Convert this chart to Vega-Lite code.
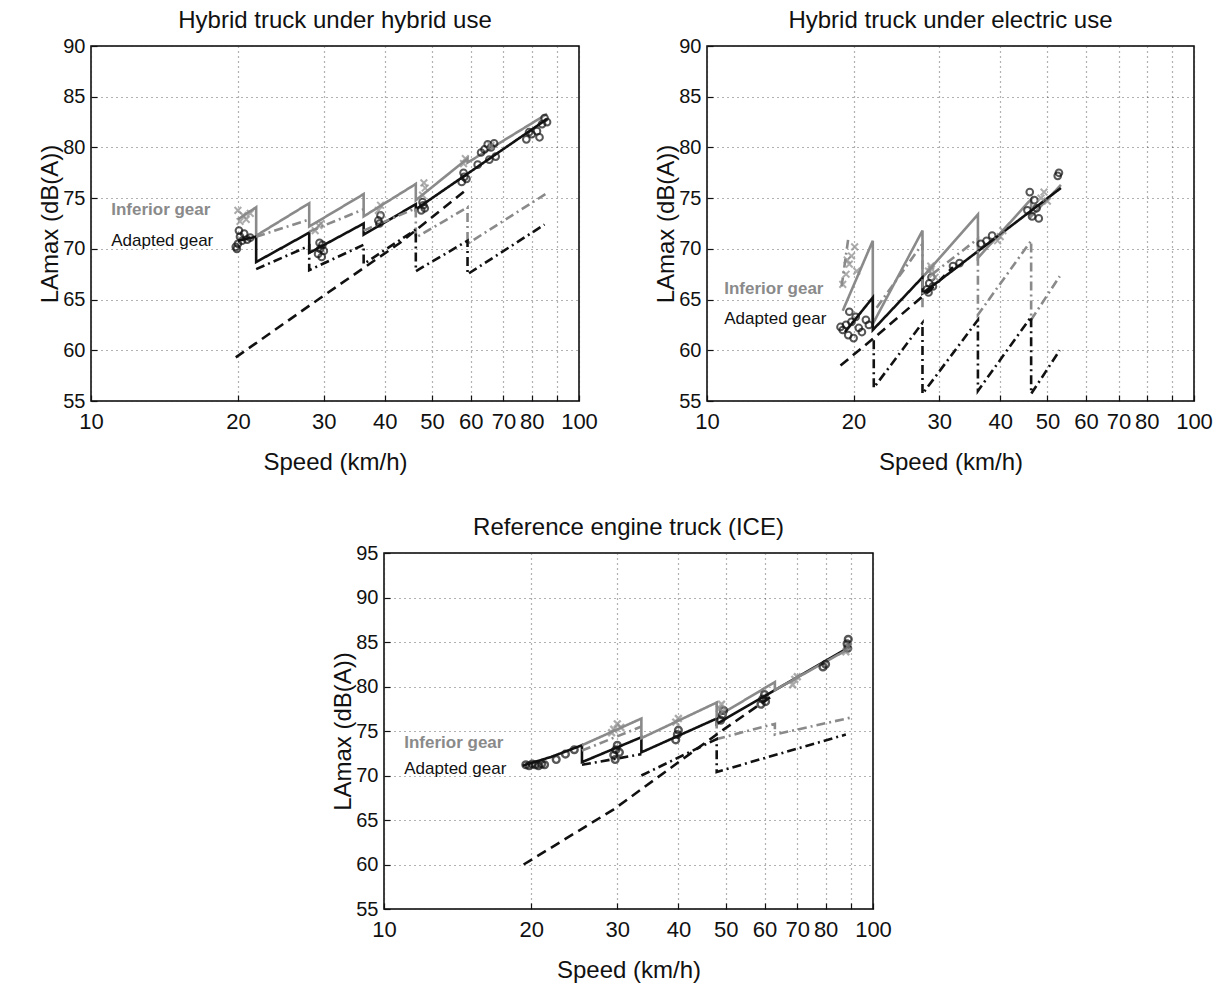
{
"$schema": "https://vega.github.io/schema/vega-lite/v6.json",
"background": "white",
"padding": {"left": 38, "top": 8, "right": 5, "bottom": 5},
"spacing": 40,
"config": {
 "font": "Liberation Sans",
 "view": {"stroke": "#000", "strokeWidth": 1.5},
 "axis": {"domain": false, "ticks": true, "tickSize": -6, "tickColor": "#111", "tickWidth": 1.2, "grid": true, "gridColor": "#333", "gridDash": [1, 4], "gridWidth": 1.2, "gridOpacity": 0.75, "labelFont": "Liberation Sans", "labelFontSize": 20, "labelColor": "#111", "labelOverlap": false, "labelFlush": false, "titleFont": "Liberation Sans", "titleFontSize": 24, "titleFontWeight": "normal", "titleColor": "#111"},
 "axisX": {"labelPadding": 16, "titlePadding": 18, "labelFontSize": 22},
 "axisY": {"labelPadding": 12, "titlePadding": 0},
 "title": {"fontSize": 24, "fontWeight": "normal", "font": "Liberation Sans", "color": "#111", "offset": 3}
},
"datasets": {
 "l1": [
  {"s":"gs","c":"Inferior","d":"solid","x":20,"y":72.9},{"s":"gs","c":"Inferior","d":"solid","x":21.8,"y":74.1},{"s":"gs","c":"Inferior","d":"solid","x":21.8,"y":71.3},{"s":"gs","c":"Inferior","d":"solid","x":28,"y":74.5},{"s":"gs","c":"Inferior","d":"solid","x":28,"y":72.2},{"s":"gs","c":"Inferior","d":"solid","x":36.2,"y":75.4},{"s":"gs","c":"Inferior","d":"solid","x":36.2,"y":73.2},{"s":"gs","c":"Inferior","d":"solid","x":46.3,"y":76.4},{"s":"gs","c":"Inferior","d":"solid","x":46.3,"y":74.8},{"s":"gs","c":"Inferior","d":"solid","x":59.1,"y":78.9},{"s":"gs","c":"Inferior","d":"solid","x":59.1,"y":78.5},{"s":"gs","c":"Inferior","d":"solid","x":86,"y":83.3},
  {"s":"bs","c":"Adapted","d":"solid","x":20,"y":70.8},{"s":"bs","c":"Adapted","d":"solid","x":21.8,"y":71.2},{"s":"bs","c":"Adapted","d":"solid","x":21.8,"y":68.7},{"s":"bs","c":"Adapted","d":"solid","x":28,"y":71.6},{"s":"bs","c":"Adapted","d":"solid","x":28,"y":69.6},{"s":"bs","c":"Adapted","d":"solid","x":36.2,"y":72.5},{"s":"bs","c":"Adapted","d":"solid","x":36.2,"y":71.4},{"s":"bs","c":"Adapted","d":"solid","x":46.3,"y":74.4},{"s":"bs","c":"Adapted","d":"solid","x":46.3,"y":73.9},{"s":"bs","c":"Adapted","d":"solid","x":86,"y":82.8},
  {"s":"gd1","c":"Inferior","d":"dashdot","x":21.8,"y":71.2},{"s":"gd1","c":"Inferior","d":"dashdot","x":28,"y":72.9},
  {"s":"gd2","c":"Inferior","d":"dashdot","x":28,"y":71.7},{"s":"gd2","c":"Inferior","d":"dashdot","x":36.2,"y":73.9},
  {"s":"gd3","c":"Inferior","d":"dashdot","x":36.2,"y":71.8},{"s":"gd3","c":"Inferior","d":"dashdot","x":46.3,"y":74.0},{"s":"gd3","c":"Inferior","d":"dashdot","x":46.3,"y":71.1},{"s":"gd3","c":"Inferior","d":"dashdot","x":59.1,"y":74.1},{"s":"gd3","c":"Inferior","d":"dashdot","x":59.1,"y":70.5},{"s":"gd3","c":"Inferior","d":"dashdot","x":86,"y":75.5},
  {"s":"bd","c":"Adapted","d":"dashdot","x":21.8,"y":68.0},{"s":"bd","c":"Adapted","d":"dashdot","x":28,"y":70.3},{"s":"bd","c":"Adapted","d":"dashdot","x":28,"y":67.9},{"s":"bd","c":"Adapted","d":"dashdot","x":36.2,"y":70.4},{"s":"bd","c":"Adapted","d":"dashdot","x":36.2,"y":68.5},{"s":"bd","c":"Adapted","d":"dashdot","x":46.3,"y":71.9},{"s":"bd","c":"Adapted","d":"dashdot","x":46.3,"y":67.8},{"s":"bd","c":"Adapted","d":"dashdot","x":59.1,"y":70.8},{"s":"bd","c":"Adapted","d":"dashdot","x":59.1,"y":67.5},{"s":"bd","c":"Adapted","d":"dashdot","x":85,"y":72.4},
  {"s":"bl","c":"Adapted","d":"dash","x":19.8,"y":59.3},{"s":"bl","c":"Adapted","d":"dash","x":30,"y":65.4},{"s":"bl","c":"Adapted","d":"dash","x":43,"y":70.6},{"s":"bl","c":"Adapted","d":"dash","x":59,"y":75.9}
 ],
 "l2": [
  {"s":"gs","c":"Inferior","d":"solid","x":19,"y":63.9},{"s":"gs","c":"Inferior","d":"solid","x":21.9,"y":70.8},{"s":"gs","c":"Inferior","d":"solid","x":21.9,"y":62.6},{"s":"gs","c":"Inferior","d":"solid","x":27.7,"y":71.8},{"s":"gs","c":"Inferior","d":"solid","x":27.7,"y":67.2},{"s":"gs","c":"Inferior","d":"solid","x":36,"y":73.4},{"s":"gs","c":"Inferior","d":"solid","x":36,"y":69.1},{"s":"gs","c":"Inferior","d":"solid","x":46.3,"y":74.9},{"s":"gs","c":"Inferior","d":"solid","x":46.3,"y":73.2},{"s":"gs","c":"Inferior","d":"solid","x":53.3,"y":76.3},
  {"s":"bs","c":"Adapted","d":"solid","x":19.2,"y":61.8},{"s":"bs","c":"Adapted","d":"solid","x":21.9,"y":65.2},{"s":"bs","c":"Adapted","d":"solid","x":21.9,"y":62.0},{"s":"bs","c":"Adapted","d":"solid","x":27.7,"y":67.2},{"s":"bs","c":"Adapted","d":"solid","x":27.7,"y":65.6},{"s":"bs","c":"Adapted","d":"solid","x":53.3,"y":76.0},
  {"s":"gd1","c":"Inferior","d":"dashdot","x":18.9,"y":66.3},{"s":"gd1","c":"Inferior","d":"dashdot","x":19.5,"y":71.0},
  {"s":"gd2","c":"Inferior","d":"dashdot","x":22.3,"y":64.2},{"s":"gd2","c":"Inferior","d":"dashdot","x":27.7,"y":70.5},{"s":"gd2","c":"Inferior","d":"dashdot","x":27.7,"y":64.2},
  {"s":"gd3","c":"Inferior","d":"dashdot","x":29,"y":67.5},{"s":"gd3","c":"Inferior","d":"dashdot","x":36,"y":71.0},{"s":"gd3","c":"Inferior","d":"dashdot","x":36,"y":63.5},{"s":"gd3","c":"Inferior","d":"dashdot","x":46.3,"y":70.8},{"s":"gd3","c":"Inferior","d":"dashdot","x":46.3,"y":63.0},{"s":"gd3","c":"Inferior","d":"dashdot","x":53,"y":67.3},
  {"s":"bl","c":"Adapted","d":"dash","x":18.8,"y":58.5},{"s":"bl","c":"Adapted","d":"dash","x":22,"y":61.2},{"s":"bl","c":"Adapted","d":"dash","x":28.8,"y":66.0},{"s":"bl","c":"Adapted","d":"dash","x":32,"y":68.2},
  {"s":"bd","c":"Adapted","d":"dashdot","x":22,"y":61.0},{"s":"bd","c":"Adapted","d":"dashdot","x":22,"y":56.3},{"s":"bd","c":"Adapted","d":"dashdot","x":27.7,"y":62.7},{"s":"bd","c":"Adapted","d":"dashdot","x":27.7,"y":55.7},{"s":"bd","c":"Adapted","d":"dashdot","x":36,"y":63.0},{"s":"bd","c":"Adapted","d":"dashdot","x":36,"y":56.0},{"s":"bd","c":"Adapted","d":"dashdot","x":46.3,"y":63.3},{"s":"bd","c":"Adapted","d":"dashdot","x":46.3,"y":55.7},{"s":"bd","c":"Adapted","d":"dashdot","x":53,"y":60.0}
 ],
 "l3": [
  {"s":"bs","c":"Adapted","d":"solid","x":19.2,"y":71.1},{"s":"bs","c":"Adapted","d":"solid","x":22,"y":72.1},{"s":"bs","c":"Adapted","d":"solid","x":25.4,"y":73.4},{"s":"bs","c":"Adapted","d":"solid","x":25.4,"y":71.5},{"s":"bs","c":"Adapted","d":"solid","x":33.6,"y":74.3},{"s":"bs","c":"Adapted","d":"solid","x":33.6,"y":72.6},{"s":"bs","c":"Adapted","d":"solid","x":47.9,"y":76.4},{"s":"bs","c":"Adapted","d":"solid","x":47.9,"y":75.8},{"s":"bs","c":"Adapted","d":"solid","x":90,"y":84.5},
  {"s":"gs","c":"Inferior","d":"solid","x":25.4,"y":73.4},{"s":"gs","c":"Inferior","d":"solid","x":33.6,"y":76.4},{"s":"gs","c":"Inferior","d":"solid","x":33.6,"y":74.2},{"s":"gs","c":"Inferior","d":"solid","x":47.9,"y":78.2},{"s":"gs","c":"Inferior","d":"solid","x":47.9,"y":76.6},{"s":"gs","c":"Inferior","d":"solid","x":63,"y":80.5},{"s":"gs","c":"Inferior","d":"solid","x":63,"y":79.6},{"s":"gs","c":"Inferior","d":"solid","x":89,"y":84.2},
  {"s":"gd1","c":"Inferior","d":"dashdot","x":25.4,"y":72.8},{"s":"gd1","c":"Inferior","d":"dashdot","x":33.6,"y":75.5},
  {"s":"gd2","c":"Inferior","d":"dashdot","x":47.9,"y":76.3},{"s":"gd2","c":"Inferior","d":"dashdot","x":47.9,"y":74.1},{"s":"gd2","c":"Inferior","d":"dashdot","x":63,"y":75.8},{"s":"gd2","c":"Inferior","d":"dashdot","x":63,"y":74.6},{"s":"gd2","c":"Inferior","d":"dashdot","x":90,"y":76.5},
  {"s":"bl","c":"Adapted","d":"dash","x":19.3,"y":60.0},{"s":"bl","c":"Adapted","d":"dash","x":29.5,"y":66.2},{"s":"bl","c":"Adapted","d":"dash","x":48.7,"y":74.9},{"s":"bl","c":"Adapted","d":"dash","x":62.4,"y":79.0},
  {"s":"bd1","c":"Adapted","d":"dashdot","x":25.4,"y":71.2},{"s":"bd1","c":"Adapted","d":"dashdot","x":33.6,"y":72.4},
  {"s":"bd2","c":"Adapted","d":"dashdot","x":33.6,"y":70.0},{"s":"bd2","c":"Adapted","d":"dashdot","x":47.9,"y":74.1},{"s":"bd2","c":"Adapted","d":"dashdot","x":47.9,"y":70.4},{"s":"bd2","c":"Adapted","d":"dashdot","x":88,"y":74.6}
 ],
 "p1": [
  {"c":"Adapted","x":19.8,"y":70.2},{"c":"Adapted","x":20.0,"y":70.5},{"c":"Adapted","x":20.2,"y":71.2},{"c":"Adapted","x":20.4,"y":70.8},{"c":"Adapted","x":20.6,"y":71.5},{"c":"Adapted","x":20.9,"y":70.9},{"c":"Adapted","x":21.2,"y":71.1},{"c":"Adapted","x":20.1,"y":71.8},{"c":"Adapted","x":19.9,"y":70.0},
  {"c":"Adapted","x":29.2,"y":69.5},{"c":"Adapted","x":29.5,"y":70.0},{"c":"Adapted","x":29.8,"y":70.4},{"c":"Adapted","x":30.0,"y":69.8},{"c":"Adapted","x":29.4,"y":70.6},{"c":"Adapted","x":29.7,"y":69.2},
  {"c":"Adapted","x":38.8,"y":72.8},{"c":"Adapted","x":39.2,"y":73.3},{"c":"Adapted","x":39.0,"y":72.5},
  {"c":"Adapted","x":47.5,"y":73.8},{"c":"Adapted","x":48.0,"y":74.3},{"c":"Adapted","x":48.3,"y":74.0},{"c":"Adapted","x":47.8,"y":74.6},
  {"c":"Adapted","x":57.5,"y":76.6},{"c":"Adapted","x":58.2,"y":77.1},{"c":"Adapted","x":58.8,"y":76.9},{"c":"Adapted","x":58.0,"y":77.5},
  {"c":"Adapted","x":62,"y":78.3},{"c":"Adapted","x":64,"y":79.8},{"c":"Adapted","x":65,"y":80.3},{"c":"Adapted","x":66,"y":80.0},{"c":"Adapted","x":67,"y":80.4},{"c":"Adapted","x":65.5,"y":78.8},{"c":"Adapted","x":67.5,"y":79.1},{"c":"Adapted","x":63,"y":79.5},
  {"c":"Adapted","x":78,"y":80.8},{"c":"Adapted","x":80,"y":81.3},{"c":"Adapted","x":82,"y":81.6},{"c":"Adapted","x":84,"y":82.3},{"c":"Adapted","x":85,"y":82.9},{"c":"Adapted","x":83,"y":81.0},{"c":"Adapted","x":86,"y":82.5},{"c":"Adapted","x":79,"y":81.5},
  {"c":"Inferior","x":20.2,"y":72.7},{"c":"Inferior","x":20.5,"y":73.3},{"c":"Inferior","x":20.8,"y":72.9},{"c":"Inferior","x":21.2,"y":73.5},{"c":"Inferior","x":20.0,"y":73.8},
  {"c":"Inferior","x":28.8,"y":71.8},{"c":"Inferior","x":29.3,"y":72.3},{"c":"Inferior","x":29.6,"y":72.5},
  {"c":"Inferior","x":38.8,"y":73.8},{"c":"Inferior","x":39.2,"y":74.3},
  {"c":"Inferior","x":47.8,"y":75.3},{"c":"Inferior","x":48.4,"y":76.0},{"c":"Inferior","x":48.1,"y":76.5},
  {"c":"Inferior","x":58,"y":78.4},{"c":"Inferior","x":58.5,"y":78.9},{"c":"Inferior","x":66,"y":80.2}
 ],
 "p2": [
  {"c":"Adapted","x":19.0,"y":62.0},{"c":"Adapted","x":19.3,"y":62.5},{"c":"Adapted","x":19.5,"y":61.5},{"c":"Adapted","x":19.8,"y":62.8},{"c":"Adapted","x":20.2,"y":63.3},{"c":"Adapted","x":20.5,"y":62.2},{"c":"Adapted","x":20.8,"y":61.8},{"c":"Adapted","x":21.2,"y":63.0},{"c":"Adapted","x":19.6,"y":63.8},{"c":"Adapted","x":20.0,"y":61.2},{"c":"Adapted","x":18.8,"y":62.3},{"c":"Adapted","x":21.5,"y":62.5},
  {"c":"Adapted","x":28.3,"y":66.0},{"c":"Adapted","x":28.6,"y":66.6},{"c":"Adapted","x":28.9,"y":67.2},{"c":"Adapted","x":29.1,"y":66.3},{"c":"Adapted","x":28.5,"y":65.7},
  {"c":"Adapted","x":32.0,"y":68.3},{"c":"Adapted","x":33.0,"y":68.6},
  {"c":"Adapted","x":36.5,"y":70.5},{"c":"Adapted","x":37.5,"y":70.8},{"c":"Adapted","x":38.5,"y":71.3},
  {"c":"Adapted","x":45.5,"y":73.8},{"c":"Adapted","x":46.5,"y":73.2},{"c":"Adapted","x":47.5,"y":74.0},{"c":"Adapted","x":48.0,"y":73.0},{"c":"Adapted","x":46.0,"y":75.6},{"c":"Adapted","x":47.0,"y":74.8},
  {"c":"Adapted","x":52.5,"y":77.2},{"c":"Adapted","x":52.8,"y":77.5},
  {"c":"Inferior","x":19.0,"y":66.5},{"c":"Inferior","x":19.3,"y":67.5},{"c":"Inferior","x":19.6,"y":68.5},{"c":"Inferior","x":19.8,"y":69.3},{"c":"Inferior","x":20.1,"y":70.2},{"c":"Inferior","x":19.4,"y":68.9},{"c":"Inferior","x":20.3,"y":67.8},
  {"c":"Inferior","x":28.5,"y":67.8},{"c":"Inferior","x":28.8,"y":68.3},{"c":"Inferior","x":29.1,"y":67.5},{"c":"Inferior","x":28.9,"y":68.0},{"c":"Inferior","x":29.4,"y":67.2},
  {"c":"Inferior","x":40.0,"y":71.2},{"c":"Inferior","x":40.5,"y":71.8},{"c":"Inferior","x":39.5,"y":70.8},
  {"c":"Inferior","x":48.5,"y":75.0},{"c":"Inferior","x":49.2,"y":75.6},{"c":"Inferior","x":50.0,"y":74.7}
 ],
 "p3": [
  {"c":"Adapted","x":19.5,"y":71.2},{"c":"Adapted","x":19.8,"y":71.1},{"c":"Adapted","x":20.1,"y":71.3},{"c":"Adapted","x":20.4,"y":71.2},{"c":"Adapted","x":20.7,"y":71.1},{"c":"Adapted","x":21.0,"y":71.3},{"c":"Adapted","x":21.3,"y":71.2},{"c":"Adapted","x":22.5,"y":71.8},{"c":"Adapted","x":23.5,"y":72.4},{"c":"Adapted","x":24.5,"y":72.9},
  {"c":"Adapted","x":29.5,"y":72.3},{"c":"Adapted","x":29.8,"y":72.9},{"c":"Adapted","x":30.0,"y":73.4},{"c":"Adapted","x":30.3,"y":72.6},{"c":"Adapted","x":29.7,"y":71.8},
  {"c":"Adapted","x":39.5,"y":74.0},{"c":"Adapted","x":39.8,"y":74.6},{"c":"Adapted","x":40.0,"y":75.1},
  {"c":"Adapted","x":48.8,"y":76.2},{"c":"Adapted","x":49.2,"y":76.8},{"c":"Adapted","x":49.5,"y":77.3},
  {"c":"Adapted","x":59.0,"y":78.0},{"c":"Adapted","x":59.5,"y":78.6},{"c":"Adapted","x":60.0,"y":79.1},{"c":"Adapted","x":60.3,"y":78.3},
  {"c":"Adapted","x":79.0,"y":82.2},{"c":"Adapted","x":80.0,"y":82.5},
  {"c":"Adapted","x":88.5,"y":84.8},{"c":"Adapted","x":89.0,"y":85.3},{"c":"Adapted","x":88.8,"y":84.3},
  {"c":"Inferior","x":29.5,"y":75.2},{"c":"Inferior","x":30.0,"y":75.8},{"c":"Inferior","x":30.5,"y":75.4},{"c":"Inferior","x":29.2,"y":74.8},
  {"c":"Inferior","x":39.5,"y":76.0},{"c":"Inferior","x":40.0,"y":76.4},
  {"c":"Inferior","x":48.5,"y":77.5},{"c":"Inferior","x":49.0,"y":78.0},{"c":"Inferior","x":49.3,"y":77.2},
  {"c":"Inferior","x":68.5,"y":80.2},{"c":"Inferior","x":69.2,"y":80.8},{"c":"Inferior","x":70.0,"y":81.1},
  {"c":"Inferior","x":89.0,"y":84.5},{"c":"Inferior","x":88.0,"y":83.9}
 ],
 "t1": [{"c":"Inferior","t":"Inferior gear","x":11.0,"y":73.8},{"c":"Adapted","t":"Adapted gear","x":11.0,"y":70.8}],
 "t2": [{"c":"Inferior","t":"Inferior gear","x":10.85,"y":66.0},{"c":"Adapted","t":"Adapted gear","x":10.85,"y":63.05}],
 "t3": [{"c":"Inferior","t":"Inferior gear","x":11.0,"y":73.7},{"c":"Adapted","t":"Adapted gear","x":11.0,"y":70.7}]
},
"vconcat": [
 {"hconcat": [
  {"width": 488, "height": 355, "title": "Hybrid truck under hybrid use",
   "encoding": {
    "x": {"field": "x", "type": "quantitative", "scale": {"type": "log", "domain": [10, 100]}, "axis": {"title": "Speed (km/h)", "values": [10,20,30,40,50,60,70,80,90,100], "format": "d", "labelExpr": "datum.value == 90 ? '' : datum.label"}},
    "y": {"field": "y", "type": "quantitative", "scale": {"domain": [55, 90]}, "axis": {"title": "LAmax (dB(A))", "values": [55,60,65,70,75,80,85,90]}}
   },
   "layer": [
    {"data": {"name": "l1"}, "mark": {"type": "line", "strokeWidth": 2.6}, "encoding": {"detail": {"field": "s"}, "order": {"value": null}, "color": {"field": "c", "type": "nominal", "scale": {"domain": ["Inferior","Adapted"], "range": ["#8a8a8a","#111111"]}, "legend": null}, "strokeDash": {"field": "d", "type": "nominal", "scale": {"domain": ["solid","dashdot","dash"], "range": [[1,0],[9,4,2,4],[10,6]]}, "legend": null}}},
    {"data": {"name": "p1"}, "mark": {"type": "point", "filled": false, "strokeWidth": 2, "size": 45}, "encoding": {"color": {"field": "c", "type": "nominal", "scale": {"domain": ["Inferior","Adapted"], "range": ["#8a8a8a","#111111"]}, "legend": null}, "shape": {"field": "c", "type": "nominal", "scale": {"domain": ["Inferior","Adapted"], "range": ["M-1,-1L1,1M-1,1L1,-1","circle"]}, "legend": null}}},
    {"data": {"name": "t1"}, "transform": [{"filter": "datum.c == 'Inferior'"}], "mark": {"type": "text", "align": "left", "baseline": "middle", "fontSize": 17, "fontWeight": "bold", "color": "#8a8a8a"}, "encoding": {"text": {"field": "t"}}},
    {"data": {"name": "t1"}, "transform": [{"filter": "datum.c == 'Adapted'"}], "mark": {"type": "text", "align": "left", "baseline": "middle", "fontSize": 17, "color": "#111"}, "encoding": {"text": {"field": "t"}}}
   ]},
  {"width": 487, "height": 355, "title": "Hybrid truck under electric use",
   "encoding": {
    "x": {"field": "x", "type": "quantitative", "scale": {"type": "log", "domain": [10, 100]}, "axis": {"title": "Speed (km/h)", "values": [10,20,30,40,50,60,70,80,90,100], "format": "d", "labelExpr": "datum.value == 90 ? '' : datum.label"}},
    "y": {"field": "y", "type": "quantitative", "scale": {"domain": [55, 90]}, "axis": {"title": "LAmax (dB(A))", "values": [55,60,65,70,75,80,85,90]}}
   },
   "layer": [
    {"data": {"name": "l2"}, "mark": {"type": "line", "strokeWidth": 2.6}, "encoding": {"detail": {"field": "s"}, "order": {"value": null}, "color": {"field": "c", "type": "nominal", "scale": {"domain": ["Inferior","Adapted"], "range": ["#8a8a8a","#111111"]}, "legend": null}, "strokeDash": {"field": "d", "type": "nominal", "scale": {"domain": ["solid","dashdot","dash"], "range": [[1,0],[9,4,2,4],[10,6]]}, "legend": null}}},
    {"data": {"name": "p2"}, "mark": {"type": "point", "filled": false, "strokeWidth": 2, "size": 45}, "encoding": {"color": {"field": "c", "type": "nominal", "scale": {"domain": ["Inferior","Adapted"], "range": ["#8a8a8a","#111111"]}, "legend": null}, "shape": {"field": "c", "type": "nominal", "scale": {"domain": ["Inferior","Adapted"], "range": ["M-1,-1L1,1M-1,1L1,-1","circle"]}, "legend": null}}},
    {"data": {"name": "t2"}, "transform": [{"filter": "datum.c == 'Inferior'"}], "mark": {"type": "text", "align": "left", "baseline": "middle", "fontSize": 17, "fontWeight": "bold", "color": "#8a8a8a"}, "encoding": {"text": {"field": "t"}}},
    {"data": {"name": "t2"}, "transform": [{"filter": "datum.c == 'Adapted'"}], "mark": {"type": "text", "align": "left", "baseline": "middle", "fontSize": 17, "color": "#111"}, "encoding": {"text": {"field": "t"}}}
   ]}
 ], "spacing": 128, "bounds": "flush"},
 {"hconcat": [
  {"width": 293, "height": 356, "data": {"values": [{"a": 1}]}, "mark": {"type": "text", "text": ""}, "encoding": {}, "view": {"stroke": null}},
  {"width": 489, "height": 356, "title": "Reference engine truck (ICE)",
   "encoding": {
    "x": {"field": "x", "type": "quantitative", "scale": {"type": "log", "domain": [10, 100]}, "axis": {"title": "Speed (km/h)", "values": [10,20,30,40,50,60,70,80,90,100], "format": "d", "labelExpr": "datum.value == 90 ? '' : datum.label"}},
    "y": {"field": "y", "type": "quantitative", "scale": {"domain": [55, 95]}, "axis": {"title": "LAmax (dB(A))", "values": [55,60,65,70,75,80,85,90,95]}}
   },
   "layer": [
    {"data": {"name": "l3"}, "mark": {"type": "line", "strokeWidth": 2.6}, "encoding": {"detail": {"field": "s"}, "order": {"value": null}, "color": {"field": "c", "type": "nominal", "scale": {"domain": ["Inferior","Adapted"], "range": ["#8a8a8a","#111111"]}, "legend": null}, "strokeDash": {"field": "d", "type": "nominal", "scale": {"domain": ["solid","dashdot","dash"], "range": [[1,0],[9,4,2,4],[10,6]]}, "legend": null}}},
    {"data": {"name": "p3"}, "mark": {"type": "point", "filled": false, "strokeWidth": 2.4, "size": 45}, "encoding": {"color": {"field": "c", "type": "nominal", "scale": {"domain": ["Inferior","Adapted"], "range": ["#8a8a8a","#111111"]}, "legend": null}, "shape": {"field": "c", "type": "nominal", "scale": {"domain": ["Inferior","Adapted"], "range": ["M-1,-1L1,1M-1,1L1,-1","circle"]}, "legend": null}}},
    {"data": {"name": "t3"}, "transform": [{"filter": "datum.c == 'Inferior'"}], "mark": {"type": "text", "align": "left", "baseline": "middle", "fontSize": 17, "fontWeight": "bold", "color": "#8a8a8a"}, "encoding": {"text": {"field": "t"}}},
    {"data": {"name": "t3"}, "transform": [{"filter": "datum.c == 'Adapted'"}], "mark": {"type": "text", "align": "left", "baseline": "middle", "fontSize": 17, "color": "#111"}, "encoding": {"text": {"field": "t"}}}
   ]}
 ], "spacing": 0, "bounds": "flush"}
]
}
